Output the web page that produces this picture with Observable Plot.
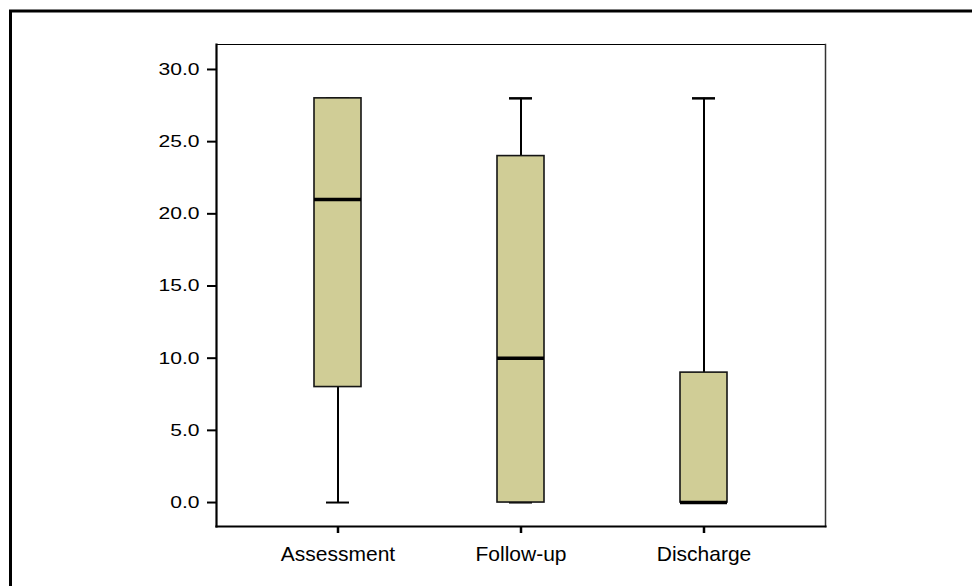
<!DOCTYPE html>
<html><head><meta charset="utf-8">
<script src="https://cdn.jsdelivr.net/npm/d3@7"></script>
<script src="https://cdn.jsdelivr.net/npm/@observablehq/plot@0.6"></script>
<style>body{margin:0;background:#fff;} svg{display:block}</style>
</head><body><div id="chart"></div>
<script>
const categories = ["Assessment", "Follow-up", "Discharge"];
const whiskerLow = [0, 0, 0];
const q1 = [8, 0, 0];
const median = [21, 10, 0];
const q3 = [28, 24, 9];
const whiskerHigh = [28, 28, 28];
const yTicks = [0, 5, 10, 15, 20, 25, 30];

const data = categories.map((c, i) => ({cat: c, lo: whiskerLow[i], q1: q1[i], med: median[i], q3: q3[i], hi: whiskerHigh[i]}));

const boxFill = "#d0cd96";

const svg = Plot.plot({
  width: 972,
  height: 586,
  marginLeft: 216,
  marginRight: 147,
  marginTop: 44,
  marginBottom: 60,
  style: {fontFamily: "'Liberation Sans', Arial, sans-serif", color: "#000", background: "#fff", overflow: "visible"},
  x: {type: "band", domain: categories, paddingInner: 0.743, paddingOuter: 0.533},
  y: {domain: [-1.66, 31.73]},
  marks: [
    Plot.ruleX(data, {x: "cat", y1: "lo", y2: "q1", stroke: "#000", strokeWidth: 2}),
    Plot.ruleX(data, {x: "cat", y1: "q3", y2: "hi", stroke: "#000", strokeWidth: 2}),
    Plot.tickY(data, {x: "cat", y: "lo", stroke: "#000", strokeWidth: 2, insetLeft: 12, insetRight: 12}),
    Plot.tickY(data, {x: "cat", y: "hi", stroke: "#000", strokeWidth: 2.5, insetLeft: 12, insetRight: 12}),
    Plot.barY(data, {x: "cat", y1: "q1", y2: "q3", fill: boxFill, stroke: "#151515", strokeWidth: 1.6}),
    Plot.tickY(data, {x: "cat", y: "med", stroke: "#000", strokeWidth: 3.5}),
    Plot.frame({anchor: "top", stroke: "#000", strokeWidth: 1}),
    Plot.frame({anchor: "right", stroke: "#333", strokeWidth: 1.5}),
    Plot.frame({anchor: "left", stroke: "#000", strokeWidth: 2.2}),
    Plot.frame({anchor: "bottom", stroke: "#000", strokeWidth: 2.2}),
    Plot.axisY({ticks: yTicks, tickFormat: d => d.toFixed(1), tickSize: 9, tickPadding: 8, fontSize: 17, strokeWidth: 2, label: null}),
    Plot.axisX({tickSize: 7, tickPadding: 13, fontSize: 21, strokeWidth: 2.5, label: null})
  ]
});

document.getElementById("chart").appendChild(svg);

// stretch y tick labels horizontally like the reference
d3.select(svg).selectAll('g[aria-label="y-axis tick label"] text').each(function () {
  const w = this.getComputedTextLength();
  if (w > 0) {
    this.setAttribute("textLength", (w * 1.24).toFixed(1));
    this.setAttribute("lengthAdjust", "spacingAndGlyphs");
  }
});

// outer border (top and left edges of the surrounding frame)
d3.select(svg).append("path")
  .attr("d", "M10.5,586V11H972")
  .attr("fill", "none")
  .attr("stroke", "#000")
  .attr("stroke-width", 3);
</script>
</body></html>
